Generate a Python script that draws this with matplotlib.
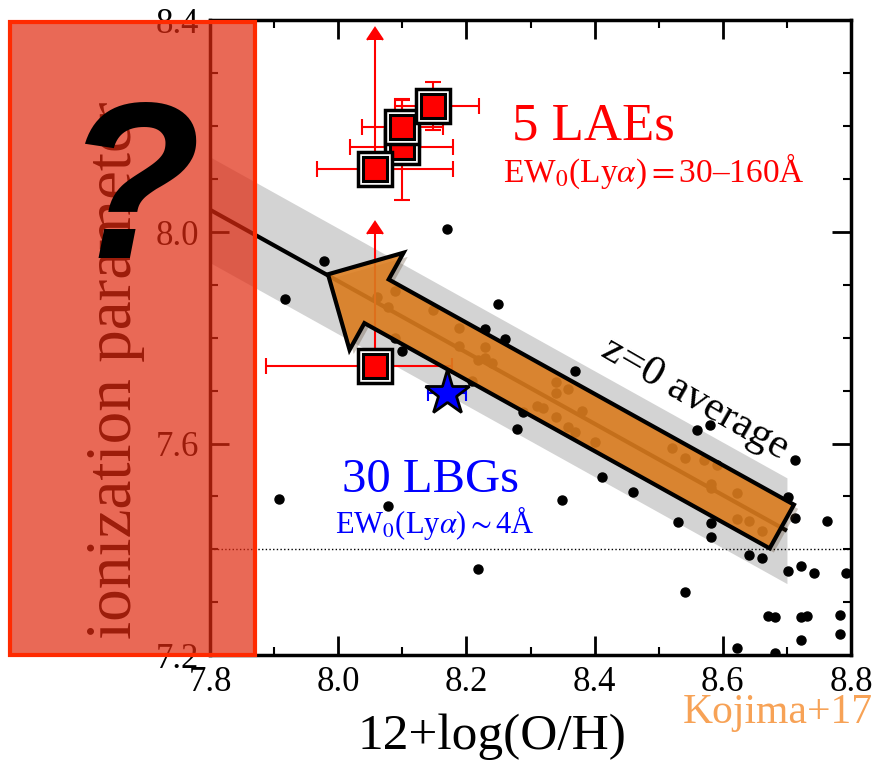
import matplotlib
matplotlib.use("Agg")
import matplotlib.pyplot as plt
import matplotlib.patheffects as pe
from matplotlib.patches import Rectangle, FancyArrowPatch
from matplotlib.ticker import MultipleLocator
import numpy as np

plt.rcParams['font.family'] = ['Liberation Serif', 'DejaVu Serif']
plt.rcParams['mathtext.fontset'] = 'stix'

# z=0 galaxies (12+log(O/H), log q)
sdss_oh = [8.170, 7.978, 7.917, 8.249, 8.229, 8.260, 8.100, 8.369, 8.279, 8.560,
           8.580, 8.412, 7.908, 8.078, 8.218, 8.713, 8.349, 8.460, 8.530, 8.582,
           8.582, 8.641, 8.661, 8.702, 8.713, 8.763, 8.702, 8.722, 8.742, 8.792,
           8.541, 8.671, 8.681, 8.722, 8.731, 8.783, 8.783, 8.722, 8.622, 8.681,
           8.089, 8.061, 8.078, 8.148, 8.188, 8.089, 8.188, 8.229, 8.229, 8.218,
           8.240, 8.209, 8.340, 8.340, 8.359, 8.310, 8.320, 8.288, 8.340, 8.380,
           8.359, 8.369, 8.401, 8.521, 8.541, 8.571, 8.591, 8.582, 8.582, 8.622,
           8.622, 8.641, 8.661]
sdss_q = [8.005, 7.946, 7.873, 7.863, 7.816, 7.797, 7.775, 7.737, 7.628, 7.626,
          7.635, 7.536, 7.496, 7.481, 7.362, 7.569, 7.494, 7.509, 7.451, 7.449,
          7.424, 7.389, 7.383, 7.498, 7.460, 7.453, 7.359, 7.368, 7.355, 7.355,
          7.319, 7.274, 7.272, 7.272, 7.274, 7.276, 7.240, 7.229, 7.214, 7.204,
          7.888, 7.878, 7.858, 7.852, 7.818, 7.799, 7.784, 7.782, 7.762, 7.758,
          7.752, 7.718, 7.716, 7.696, 7.703, 7.671, 7.667, 7.660, 7.650, 7.662,
          7.632, 7.622, 7.603, 7.592, 7.573, 7.568, 7.560, 7.524, 7.515, 7.507,
          7.457, 7.453, 7.434]

# z=0 average relation and its scatter
avg_oh = np.array([7.8, 8.7])
avg_q = np.array([8.042, 7.435])
avg_scatter = 0.1

# 5 LAEs
lae_oh = [8.100, 8.100, 8.148, 8.057, 8.057]
lae_q = [8.161, 8.198, 8.238, 8.119, 7.747]
lae_xlo = [0.082, 0.063, 0.060, 0.090, 0.170]
lae_xhi = [0.079, 0.063, 0.072, 0.122, 0.121]
lae_ylo = [0.100, 0.052, 0.045, 0.0, 0.0]
lae_yhi = [0.090, 0.052, 0.045, 0.245, 0.250]
lae_lowlim = [False, False, False, True, True]

# 30 LBGs composite
lbg_oh = [8.170]
lbg_q = [7.696]
lbg_xerr = [0.03]

# evolution arrow (from z=0 tail to head)
arrow_from = (8.692, 7.443)
arrow_to = (7.984, 7.920)

fig = plt.figure(figsize=(8.77, 7.62), dpi=100)
ax = fig.add_axes([0.2395, 0.1404, 0.7309, 0.8327])

ax.fill_between(avg_oh, avg_q - avg_scatter, avg_q + avg_scatter,
                color='#d3d3d3', lw=0, zorder=1)
ax.axhline(7.4, color='black', ls=':', lw=1, zorder=1.5)
ax.plot(avg_oh, avg_q, color='black', lw=3, zorder=2, solid_capstyle='butt')
ax.plot(sdss_oh, sdss_q, 'o', color='black', ms=6.5, zorder=3)

eb = ax.errorbar(lae_oh, lae_q, xerr=[lae_xlo, lae_xhi], yerr=[lae_ylo, lae_yhi],
                 lolims=lae_lowlim, fmt='none', ecolor='red', elinewidth=1.5,
                 capsize=6, capthick=1.5, zorder=4)
for cl in eb.lines[1]:
    cl.set_color('red')
    cl.set_markerfacecolor('red')
    cl.set_markeredgecolor('red')

ax.errorbar(lbg_oh, lbg_q, xerr=lbg_xerr, fmt='none', ecolor='blue',
            elinewidth=1.5, capsize=6, capthick=1.5, zorder=4)
ax.plot(lbg_oh, lbg_q, '*', ms=34, mfc='blue', mec='black', mew=2, zorder=4.5)

style = 'simple,head_length=40,head_width=80,tail_width=36'
arr = FancyArrowPatch(arrow_from, arrow_to, arrowstyle=style,
                      mutation_scale=1, shrinkA=0, shrinkB=0,
                      fc='#e07f1f', ec='none', alpha=0.87, zorder=5)
arr.set_path_effects([pe.SimplePatchShadow(offset=(3, -3), alpha=0.25), pe.Normal()])
ax.add_patch(arr)
arr_edge = FancyArrowPatch(arrow_from, arrow_to, arrowstyle=style,
                           mutation_scale=1, shrinkA=0, shrinkB=0,
                           fc='none', ec='black', lw=3, zorder=5.1, joinstyle='miter')
ax.add_patch(arr_edge)

# LAE squares with double frame
for i in [0, 1, 2, 3, 4]:
    ax.plot(lae_oh[i], lae_q[i], 's', ms=24.5, mfc='white', mec='black', mew=2.5, zorder=6 + 0.1 * i)
    ax.plot(lae_oh[i], lae_q[i], 's', ms=17.5, mfc='red', mec='black', mew=2.2, zorder=6.05 + 0.1 * i)

ax.text(8.271, 8.174, '5 LAEs', color='red', fontsize=38, ha='left', va='baseline', zorder=7)
ax.text(8.257, 8.095, r'EW$_0$(Ly$\alpha$)$=$30–160Å', color='red', fontsize=24,
        ha='left', va='baseline', zorder=7)
ax.text(8.006, 7.508, '30 LBGs', color='blue', fontsize=35, ha='left', va='baseline', zorder=7)
ax.text(7.995, 7.431, r'EW$_0$(Ly$\alpha$)$\sim$4Å', color='blue', fontsize=22,
        ha='left', va='baseline', zorder=7)
ax.text(8.557, 7.684, 'z=0 average', color='black', fontsize=31, rotation=-30,
        rotation_mode='anchor', ha='center', va='center', zorder=7)

ax.set_xlim(7.8, 8.8)
ax.set_ylim(7.2, 8.4)
ax.xaxis.set_major_locator(MultipleLocator(0.2))
ax.xaxis.set_minor_locator(MultipleLocator(0.1))
ax.yaxis.set_major_locator(MultipleLocator(0.4))
ax.yaxis.set_minor_locator(MultipleLocator(0.1))
ax.tick_params(which='both', direction='in', top=True, right=True, labelsize=25, pad=8)
ax.tick_params(which='major', length=14, width=2)
ax.tick_params(which='minor', length=6, width=1.5)
for s in ax.spines.values():
    s.set_linewidth(2.5)

fig.text(492 / 877, 1 - 737 / 762, '12+log(O/H)', fontsize=37, ha='center', va='center')
fig.text(683 / 877, 1 - 713 / 762, 'Kojima+17', color='#f7a256', fontsize=30,
         ha='left', va='center')

# y label hidden under the red box, then the question mark on top
fig.text(115 / 877, 1 - 370 / 762, 'ionization parameter', fontsize=47,
         rotation=90, ha='center', va='center', zorder=5)
box = Rectangle((10 / 877, 1 - 655 / 762), 245 / 877, 633 / 762,
                transform=fig.transFigure, fc=(0.88, 0.16, 0.06, 0.7),
                ec='#ff2a00', lw=3, zorder=10)
fig.add_artist(box)
fig.text(132 / 877, 1 - 258 / 762, '?', fontsize=160, fontweight='bold',
         fontstyle='italic', family=['Liberation Sans', 'DejaVu Sans'],
         ha='center', va='baseline', zorder=11)

fig.savefig('out.png', dpi=100)
